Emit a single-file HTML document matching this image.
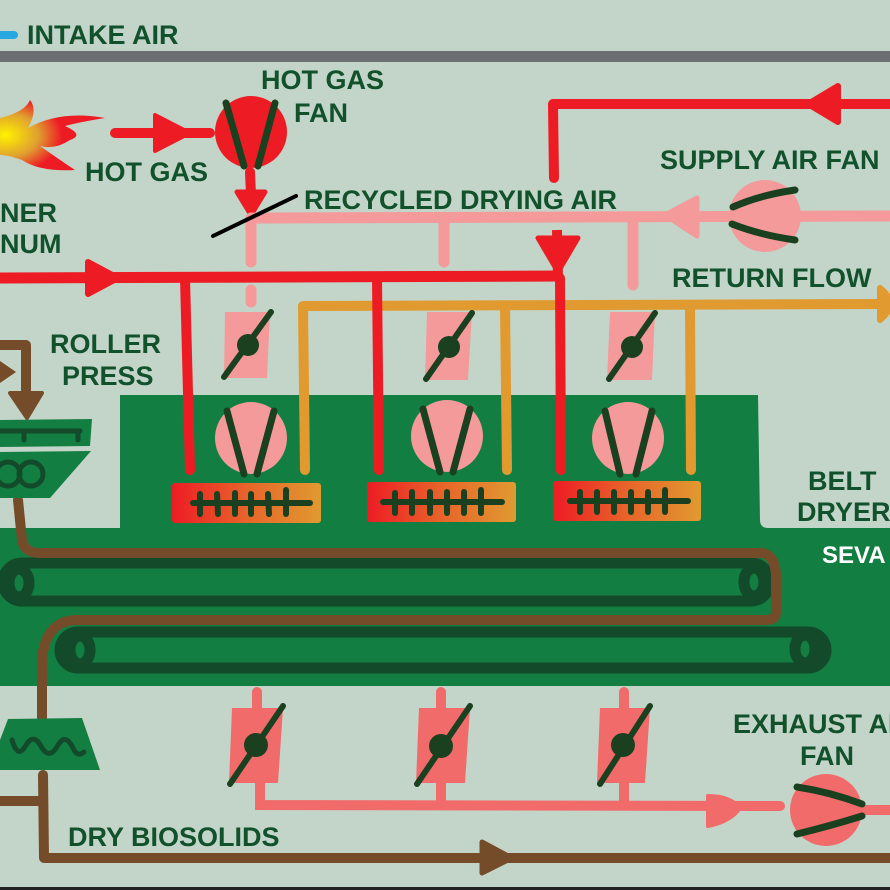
<!DOCTYPE html>
<html><head><meta charset="utf-8"><style>
html,body{margin:0;padding:0;background:#c3d5c8;}
svg{display:block}
text{font-family:"Liberation Sans",sans-serif;font-weight:bold;fill:#11522c;font-size:27px}
</style></head><body>
<svg width="890" height="890" viewBox="0 0 890 890" xmlns="http://www.w3.org/2000/svg">
<defs>
<linearGradient id="heat" x1="0" x2="1" y1="0" y2="0"><stop offset="0" stop-color="#ed1c24"/><stop offset="0.5" stop-color="#e8642a"/><stop offset="1" stop-color="#e09a30"/></linearGradient>
<radialGradient id="flame" cx="0.05" cy="0.5" r="0.9"><stop offset="0" stop-color="#fff200"/><stop offset="0.35" stop-color="#e0a030"/><stop offset="0.6" stop-color="#ed1c24"/><stop offset="1" stop-color="#ed1c24"/></radialGradient>
</defs>
<rect width="890" height="890" fill="#c3d5c8"/>
<line x1="0" y1="35" x2="14" y2="35" stroke="#29a8e0" stroke-width="8" stroke-linecap="round"/>
<text x="27" y="44">INTAKE AIR</text>
<rect x="0" y="51" width="890" height="11" fill="#6d6e71"/>
<path d="M120 395 L890 395 L890 686 L0 686 L0 528 L120 528 Z" fill="#137e42"/>
<path d="M758 395 L890 395 L890 528 L768 528 Q760 528 760 520 Z" fill="#c3d5c8"/>
<path d="M0 118 Q25 112 30 100 Q38 110 28 128 Q60 110 105 118 Q80 122 65 126 Q85 135 70 140 Q55 150 40 146 Q60 160 75 170 Q40 172 22 160 Q8 155 0 155 Z" fill="url(#flame)"/>
<line x1="115" y1="133" x2="210" y2="133" stroke="#ed1c24" stroke-width="10" stroke-linecap="round"/>
<path d="M155 115 L190 133 L155 151 Z" fill="#ed1c24" stroke="#ed1c24" stroke-width="4" stroke-linejoin="round"/>
<text x="85" y="181">HOT GAS</text>
<circle cx="251" cy="132" r="36" fill="#ed1c24"/>
<line x1="226" y1="103" x2="244" y2="166" stroke="#1a4020" stroke-width="7" stroke-linecap="round"/>
<line x1="275" y1="103" x2="258" y2="166" stroke="#1a4020" stroke-width="7" stroke-linecap="round"/>
<text x="261" y="89">HOT GAS</text>
<text x="294" y="122">FAN</text>
<line x1="250" y1="172" x2="251" y2="195" stroke="#ed1c24" stroke-width="10" stroke-linecap="round"/>
<path d="M237 192 L265 192 L251 215 Z" fill="#ed1c24" stroke="#ed1c24" stroke-width="5" stroke-linejoin="round"/>
<line x1="250" y1="218" x2="890" y2="216" stroke="#f49a9a" stroke-width="11"/>
<line x1="251" y1="218" x2="251" y2="262" stroke="#f49a9a" stroke-width="11" stroke-linecap="round"/>
<line x1="251" y1="290" x2="251" y2="302" stroke="#f49a9a" stroke-width="11" stroke-linecap="round"/>
<line x1="444" y1="218" x2="444" y2="262" stroke="#f49a9a" stroke-width="11" stroke-linecap="round"/>
<line x1="633" y1="218" x2="633" y2="285" stroke="#f49a9a" stroke-width="11" stroke-linecap="round"/>
<path d="M697 198 L665 215 L697 236 Z" fill="#f49a9a" stroke="#f49a9a" stroke-width="5" stroke-linejoin="round"/>
<circle cx="765" cy="216" r="36" fill="#f49a9a"/>
<path d="M733 207 Q760 195 795 190" fill="none" stroke="#1a4020" stroke-width="7" stroke-linecap="round"/>
<path d="M732 224 Q760 235 795 240" fill="none" stroke="#1a4020" stroke-width="7" stroke-linecap="round"/>
<line x1="213" y1="236" x2="296" y2="196" stroke="#000" stroke-width="4" stroke-linecap="round"/>
<text x="304" y="209">RECYCLED DRYING  AIR</text>
<text x="660" y="169">SUPPLY AIR FAN</text>
<path d="M890 104 L553 104 L554 178" fill="none" stroke="#ed1c24" stroke-width="10" stroke-linecap="round" stroke-linejoin="round"/>
<path d="M838 86 L808 104 L838 122 Z" fill="#ed1c24" stroke="#ed1c24" stroke-width="6" stroke-linejoin="round"/>
<line x1="557" y1="230" x2="558" y2="278" stroke="#ed1c24" stroke-width="10"/>
<path d="M538 238 L578 238 L558 272 Z" fill="#ed1c24" stroke="#ed1c24" stroke-width="5" stroke-linejoin="round"/>
<line x1="0" y1="278" x2="562" y2="276" stroke="#ed1c24" stroke-width="11"/>
<path d="M88 262 L118 278 L88 294 Z" fill="#ed1c24" stroke="#ed1c24" stroke-width="6" stroke-linejoin="round"/>
<text x="0" y="222">NER</text>
<text x="0" y="253">NUM</text>
<path d="M305 470 L303 306 L880 304" fill="none" stroke="#e09a30" stroke-width="10" stroke-linecap="round" stroke-linejoin="round"/>
<line x1="505" y1="306" x2="507" y2="470" stroke="#e09a30" stroke-width="10" stroke-linecap="round"/>
<line x1="690" y1="306" x2="691" y2="470" stroke="#e09a30" stroke-width="10" stroke-linecap="round"/>
<path d="M880 288 Q890 296 890 304 Q890 312 880 320 Z" fill="#e09a30" stroke="#e09a30" stroke-width="6" stroke-linejoin="round"/>
<text x="672" y="287">RETURN FLOW</text>
<line x1="185" y1="278" x2="190" y2="470" stroke="#ed1c24" stroke-width="10" stroke-linecap="round"/>
<line x1="377" y1="278" x2="379" y2="470" stroke="#ed1c24" stroke-width="10" stroke-linecap="round"/>
<line x1="560" y1="278" x2="561" y2="470" stroke="#ed1c24" stroke-width="10" stroke-linecap="round"/>
<g>
<path d="M225 312 L270 312 L267 378 L224 378 Z" fill="#f49a9a"/>
<line x1="224" y1="377" x2="271" y2="312" stroke="#1a4020" stroke-width="6" stroke-linecap="round"/>
<circle cx="248" cy="345" r="11" fill="#1a4020"/>
<path d="M427 312 L472 312 L468 380 L425 380 Z" fill="#f49a9a"/>
<line x1="426" y1="379" x2="472" y2="313" stroke="#1a4020" stroke-width="6" stroke-linecap="round"/>
<circle cx="449" cy="347" r="11" fill="#1a4020"/>
<path d="M610 312 L655 312 L652 380 L607 380 Z" fill="#f49a9a"/>
<line x1="609" y1="379" x2="655" y2="313" stroke="#1a4020" stroke-width="6" stroke-linecap="round"/>
<circle cx="632" cy="347" r="11" fill="#1a4020"/>
</g>
<g stroke="#1a4020" stroke-width="7" stroke-linecap="round">
<circle cx="251" cy="438" r="36" fill="#f49a9a" stroke="none"/>
<line x1="227" y1="411" x2="244" y2="474"/><line x1="274" y1="411" x2="257" y2="474"/>
<circle cx="447" cy="436" r="36" fill="#f49a9a" stroke="none"/>
<line x1="423" y1="409" x2="440" y2="472"/><line x1="470" y1="409" x2="453" y2="472"/>
<circle cx="628" cy="438" r="36" fill="#f49a9a" stroke="none"/>
<line x1="605" y1="411" x2="620" y2="474"/><line x1="652" y1="411" x2="636" y2="474"/>
</g>
<g stroke="#1a4020" stroke-width="6" stroke-linecap="round">
<rect x="172" y="483" width="149" height="40" rx="3" fill="url(#heat)" stroke="none"/>
<line x1="193" y1="503" x2="310" y2="503"/>
<line x1="200" y1="494" x2="200" y2="514"/><line x1="217" y1="494" x2="218" y2="514"/><line x1="235" y1="493" x2="235" y2="514"/><line x1="251" y1="494" x2="251" y2="514"/><line x1="268" y1="494" x2="269" y2="514"/><line x1="286" y1="490" x2="286" y2="514"/>
<rect x="367" y="482" width="149" height="40" rx="3" fill="url(#heat)" stroke="none"/>
<line x1="383" y1="502" x2="502" y2="502"/>
<line x1="395" y1="493" x2="395" y2="513"/><line x1="412" y1="492" x2="412" y2="513"/><line x1="430" y1="492" x2="430" y2="513"/><line x1="447" y1="492" x2="447" y2="513"/><line x1="464" y1="492" x2="464" y2="513"/><line x1="481" y1="490" x2="481" y2="513"/>
<rect x="553" y="481" width="148" height="40" rx="3" fill="url(#heat)" stroke="none"/>
<line x1="570" y1="501" x2="688" y2="501"/>
<line x1="580" y1="492" x2="580" y2="512"/><line x1="597" y1="492" x2="597" y2="512"/><line x1="614" y1="492" x2="614" y2="512"/><line x1="631" y1="492" x2="631" y2="512"/><line x1="648" y1="492" x2="648" y2="512"/><line x1="665" y1="490" x2="665" y2="512"/>
</g>
<text x="808" y="490">BELT</text>
<text x="797" y="521">DRYER</text>
<text x="822" y="563" style="fill:#fff;font-size:24px">SEVA</text>
<g fill="none" stroke="#124a2a" stroke-width="11">
<rect x="3" y="563" width="767" height="38" rx="19"/>
<ellipse cx="19" cy="583" rx="10" ry="14"/>
<ellipse cx="754" cy="582" rx="10" ry="14"/>
<rect x="60" y="632" width="766" height="36" rx="18"/>
<ellipse cx="80" cy="650" rx="10" ry="14"/>
<ellipse cx="805" cy="649" rx="10" ry="14"/>
</g>
<path d="M18 500 L22 540 Q24 553 40 553 L762 553 Q775 555 776 575 L776 613 Q776 620 765 620 L75 620 Q45 622 42 660 L42 718" fill="none" stroke="#754c29" stroke-width="10" stroke-linecap="round" stroke-linejoin="round"/>
<path d="M43 775 L44 858 L890 858" fill="none" stroke="#754c29" stroke-width="10" stroke-linecap="round" stroke-linejoin="round"/>
<line x1="0" y1="801" x2="43" y2="801" stroke="#754c29" stroke-width="10"/>
<path d="M482 842 L512 858 L482 873 Z" fill="#754c29" stroke="#754c29" stroke-width="5" stroke-linejoin="round"/>
<path d="M0 345 L26 345 L26 400" fill="none" stroke="#754c29" stroke-width="10" stroke-linejoin="round"/>
<path d="M0 361 L16 372 L0 383 Z" fill="#754c29"/>
<path d="M10 393 L42 393 L27 418 Z" fill="#754c29" stroke="#754c29" stroke-width="4" stroke-linejoin="round"/>
<path d="M0 420 L92 419 L90 446 L0 447 Z" fill="#137e42"/>
<path d="M0 431 L80 431 M24 431 L24 440 M78 431 L78 440" stroke="#124a2a" stroke-width="5" stroke-linecap="round" fill="none"/>
<path d="M0 452 L91 451 L50 498 L0 498 Z" fill="#137e42"/>
<circle cx="8" cy="474" r="12" fill="none" stroke="#124a2a" stroke-width="5"/>
<circle cx="31" cy="474" r="12" fill="none" stroke="#124a2a" stroke-width="5"/>
<text x="50" y="353">ROLLER</text>
<text x="62" y="385">PRESS</text>
<path d="M8 719 L82 718 L100 770 L0 770 L0 740 Z" fill="#137e42"/>
<path d="M12 740 Q18 760 26 745 Q34 732 42 748 Q50 760 58 745 Q66 732 74 750 Q78 757 84 752" fill="none" stroke="#124a2a" stroke-width="5" stroke-linecap="round"/>
<text x="68" y="846">DRY BIOSOLIDS</text>
<g stroke="#f26b6b" stroke-width="10" stroke-linecap="round" fill="none">
<line x1="257" y1="692" x2="257" y2="710"/><line x1="441" y1="692" x2="441" y2="710"/><line x1="624" y1="692" x2="624" y2="710"/>
<path d="M260 780 L260 805 L780 806"/>
<line x1="441" y1="780" x2="441" y2="805"/><line x1="624" y1="780" x2="624" y2="805"/>
<line x1="866" y1="810" x2="890" y2="810"/>
</g>
<path d="M232 708 L283 708 L278 783 L229 783 Z" fill="#f26b6b"/>
<path d="M419 708 L470 708 L465 783 L416 783 Z" fill="#f26b6b"/>
<path d="M600 708 L650 708 L645 783 L597 783 Z" fill="#f26b6b"/>
<g stroke="#1a4020" stroke-width="6" stroke-linecap="round">
<line x1="230" y1="784" x2="283" y2="706"/><line x1="417" y1="784" x2="470" y2="706"/><line x1="600" y1="784" x2="650" y2="706"/>
</g>
<circle cx="256" cy="745" r="12" fill="#1a4020"/>
<circle cx="441" cy="746" r="12" fill="#1a4020"/>
<circle cx="623" cy="745" r="12" fill="#1a4020"/>
<path d="M708 796 Q730 796 740 808 Q730 822 708 826 Z" fill="#f26b6b" stroke="#f26b6b" stroke-width="4" stroke-linejoin="round"/>
<circle cx="826" cy="810" r="36" fill="#f26b6b"/>
<path d="M797 787 Q830 792 862 804" fill="none" stroke="#1a4020" stroke-width="7" stroke-linecap="round"/>
<path d="M797 834 Q830 826 862 816" fill="none" stroke="#1a4020" stroke-width="7" stroke-linecap="round"/>
<text x="733" y="733">EXHAUST AIR</text>
<text x="800" y="765">FAN</text>
<rect x="0" y="887" width="890" height="3" fill="#222"/>
</svg>
</body></html>
